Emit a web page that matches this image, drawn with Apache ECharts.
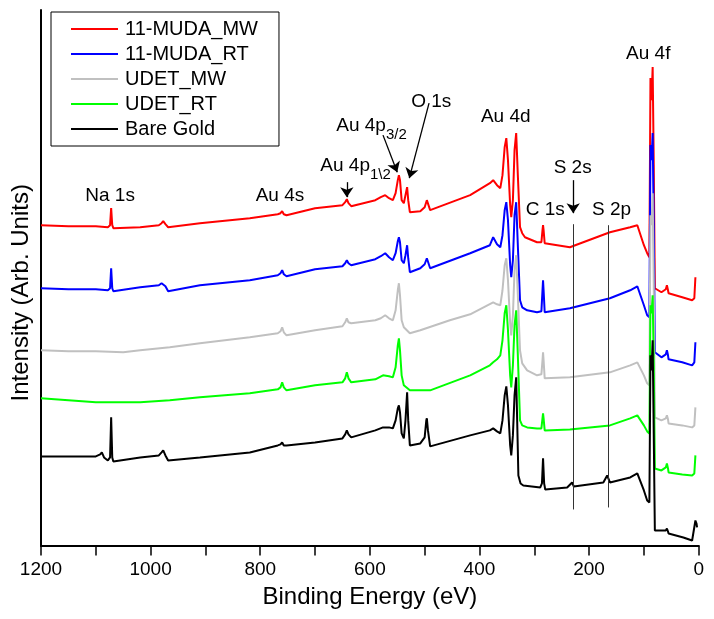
<!DOCTYPE html>
<html><head><meta charset="utf-8">
<script src="https://cdn.jsdelivr.net/npm/echarts@6/dist/echarts.min.js"></script>
<style>html,body{margin:0;padding:0;background:#fff}#c{width:714px;height:619px}</style>
</head><body><div id="c"></div>
<script>
// ---------- data (binding energy eV, intensity arb. units incl. vertical offset) ----------
const seriesNames = ['11-MUDA_MW', '11-MUDA_RT', 'UDET_MW', 'UDET_RT', 'Bare Gold'];

const muda_mw = [[1200,320],[1150,319],[1100,319],[1078,318],[1074,320],[1072,337],[1070,320],[1068,317],[1019,318],[985,320],[980,322],[977,324],[973,321],[968,318],[910,322],[819,327],[768,331],[763,332],[760,334],[757,331],[752,330],[700,337],[650,340],[645,343],[642,346],[639,342],[634,339],[590,345],[580,348],[572,350],[565,347],[558,345],[553,352],[549,365],[547,370],[545,365],[542,345],[538,342],[535,350],[532,358],[530,345],[527,333],[508,334],[500,338],[496,345],[493,340],[490,335],[417,350],[381,362],[375,365],[368,360],[362,357],[358,370],[354,398],[351,407],[348,385],[344,340],[342,328],[339,345],[336,395],[333,412],[330,370],[326,318],[322,312],[317,308],[295,303],[287,303],[285,315],[284,320],[283,315],[281,302],[235,298],[162,313],[125,318],[112,320],[100,300],[94,292],[90,288],[88,467],[86,445],[84,478],[82,380],[80,257],[68,253],[60,256],[58,260],[56,255],[55,252],[30,248],[12,245],[8,247],[6,268]];

const muda_rt = [[1200,257],[1150,256],[1100,256],[1078,255],[1074,257],[1072,277],[1070,257],[1068,254],[1019,258],[985,260],[980,262],[977,263],[973,259],[968,254],[910,260],[819,265],[768,270],[763,272],[760,275],[757,271],[752,269],[700,276],[650,279],[645,282],[642,285],[639,282],[634,280],[590,286],[580,289],[572,292],[565,288],[558,285],[553,292],[549,304],[547,308],[545,303],[542,285],[538,282],[535,290],[532,300],[530,287],[527,273],[508,277],[500,281],[496,287],[493,282],[490,277],[417,292],[381,300],[375,308],[368,301],[362,298],[358,310],[354,335],[351,343],[348,325],[344,280],[342,268],[339,285],[336,330],[333,343],[330,300],[326,245],[322,238],[313,235],[295,233],[287,234],[285,255],[284,265],[283,255],[281,233],[235,237],[162,247],[125,255],[112,259],[109,260],[100,240],[94,230],[90,228],[88,400],[86,385],[84,412],[82,320],[80,193],[68,188],[60,191],[58,195],[56,190],[55,186],[30,183],[12,180],[8,183],[6,203]];

const udet_mw = [[1200,195],[1150,194],[1100,194],[1050,193],[1019,195],[965,198],[910,202],[819,208],[768,212],[763,214],[760,218],[757,213],[752,210],[700,215],[650,219],[645,223],[642,227],[639,223],[634,222],[590,225],[580,227],[572,230],[565,227],[558,225],[553,235],[549,255],[547,262],[545,250],[542,225],[538,218],[527,212],[508,215],[454,225],[417,231],[375,243],[368,241],[362,240],[358,255],[354,280],[351,287],[348,265],[344,222],[342,210],[339,230],[336,275],[333,290],[330,250],[326,195],[322,182],[313,175],[295,170],[287,171],[285,185],[284,193],[283,185],[281,167],[235,168],[162,173],[125,180],[112,183],[109,183],[100,170],[94,162],[90,160],[88,330],[86,320],[84,352],[82,260],[80,128],[68,125],[60,127],[58,130],[56,126],[55,122],[30,120],[12,118],[8,120],[6,138]];

const udet_rt = [[1200,147],[1150,145],[1100,143],[1019,143],[965,145],[910,148],[819,152],[768,156],[763,158],[760,163],[757,158],[752,155],[700,160],[650,163],[645,167],[642,173],[639,167],[634,163],[590,166],[576,170],[565,169],[558,168],[553,178],[549,200],[547,207],[545,195],[542,170],[538,160],[527,155],[490,155],[417,170],[381,180],[375,183],[368,186],[362,190],[358,205],[354,232],[351,240],[348,215],[344,170],[342,158],[339,180],[336,220],[333,235],[330,190],[326,125],[322,120],[313,118],[295,117],[287,117],[285,127],[284,132],[283,127],[281,115],[235,116],[162,120],[125,127],[112,130],[109,130],[100,120],[94,114],[90,112],[88,240],[86,232],[84,250],[82,180],[80,77],[68,75],[60,78],[58,82],[56,77],[55,73],[30,71],[12,70],[8,72],[6,90]];

const bare_gold = [[1200,89],[1150,89],[1100,89],[1092,91],[1089,93],[1085,88],[1078,85],[1074,88],[1072,128],[1070,88],[1068,84],[1019,88],[985,90],[980,93],[977,95],[973,90],[968,85],[910,88],[819,93],[768,100],[763,101],[760,103],[757,100],[752,100],[700,103],[650,107],[645,111],[642,115],[639,111],[634,108],[590,115],[576,118],[565,118],[558,117],[553,125],[549,137],[547,140],[545,133],[542,112],[538,107],[535,125],[532,153],[530,125],[527,100],[508,102],[500,108],[497,125],[496,127],[494,115],[490,99],[417,110],[381,115],[375,117],[368,114],[362,112],[358,125],[354,150],[351,159],[348,140],[344,100],[342,90],[339,110],[336,150],[333,168],[331,120],[329,70],[325,62],[320,60],[289,58],[286,62],[284,87],[282,62],[280,56],[240,58],[231,63],[228,59],[174,63],[167,70],[162,63],[125,68],[112,72],[100,55],[94,45],[90,43],[88,190],[86,175],[84,205],[82,110],[80,15],[68,15],[60,15],[58,17],[56,14],[55,12],[28,8],[12,5],[6,25],[4,22],[3,18]];

const xTickLabels = [0, 200, 400, 600, 800, 1000, 1200];

// peak annotations (data coordinates)
const peakLabels  = ['Na 1s', 'Au 4s', 'Au 4p|1\\2', 'Au 4p|3/2', 'O 1s', 'Au 4d', 'C 1s', 'S 2s', 'S 2p', 'Au 4f'];
const peakLabelBE = [1074, 764, 626, 597, 488, 352, 280, 230, 159, 92];
const peakLabelY  = [349, 349, 378, 418, 443, 428, 335, 377, 335, 491];
const arrowFrom = [[642, 363], [576, 410], [492, 442], [229, 365]];
const arrowTo   = [[642, 348], [550, 373], [528, 367], [229, 332]];
const refLineBE = [229, 165];
const refLineTop = [321, 320];
const refLineBottom = [36, 38];

// ---------- chart ----------
const FONT = 'Liberation Sans, Arial, sans-serif';
const colors = ['#ff0000', '#0000ff', '#c0c0c0', '#00ff00', '#000000'];
const datasets = [muda_mw, muda_rt, udet_mw, udet_rt, bare_gold];

const markLineData = [];
arrowFrom.forEach((f, i) => {
  markLineData.push([{coord: f, symbol: 'none'}, {coord: arrowTo[i], symbol: 'arrow'}]);
});
refLineBE.forEach((be, i) => {
  markLineData.push([{coord: [be, refLineTop[i]], symbol: 'none', lineStyle: {color: '#333', width: 1}},
                     {coord: [be, refLineBottom[i]], symbol: 'none'}]);
});

const markPointData = peakLabels.map((t, i) => ({
  coord: [peakLabelBE[i], peakLabelY[i]],
  value: t
}));

const series = seriesNames.map((n, i) => {
  const s = {
    name: n, type: 'line', data: datasets[i], symbol: 'none', showSymbol: false,
    lineStyle: {color: colors[i], width: 2}, itemStyle: {color: colors[i]},
    emphasis: {disabled: true}, animation: false
  };
  if (i === seriesNames.length - 1) {
    s.markLine = {
      silent: true, animation: false, symbolSize: 10,
      label: {show: false},
      lineStyle: {color: '#000', width: 1.3, type: 'solid'},
      emphasis: {disabled: true},
      data: markLineData
    };
    s.markPoint = {
      silent: true, animation: false, symbol: 'circle', symbolSize: 1,
      itemStyle: {color: 'rgba(0,0,0,0)'},
      label: {
        show: true, position: 'inside', color: '#000', fontSize: 19, fontFamily: FONT,
        formatter: p => {
          const parts = p.value.split('|');
          if (parts.length === 1) return parts[0];
          return '{m|' + parts[0] + '}{s|' + parts[1] + '}';
        },
        rich: {
          m: {fontSize: 19, lineHeight: 22, verticalAlign: 'top', color: '#000', fontFamily: FONT},
          s: {fontSize: 15, lineHeight: 15, padding: [11, 0, 0, 0], verticalAlign: 'top', color: '#000', fontFamily: FONT}
        }
      },
      data: markPointData
    };
  }
  return s;
});

const chart = echarts.init(document.getElementById('c'), null, {renderer: 'canvas'});
chart.setOption({
  animation: false,
  backgroundColor: '#fff',
  grid: {left: 41, right: 15.3, top: 10, bottom: 73.5, containLabel: false},
  legend: {
    data: seriesNames, orient: 'vertical', left: 51, top: 12,
    padding: [7, 21, 7, 20], itemGap: 5, itemWidth: 47, itemHeight: 2, icon: 'rect',
    borderColor: '#000', borderWidth: 1, backgroundColor: '#fff',
    textStyle: {fontSize: 20, lineHeight: 20, color: '#000', fontFamily: FONT, padding: [0, 0, 0, 2]},
    selectedMode: false
  },
  xAxis: {
    type: 'value', min: 0, max: 1200, interval: 100, inverse: true,
    name: 'Binding Energy (eV)', nameLocation: 'middle', nameGap: 40,
    nameTextStyle: {fontSize: 24, color: '#000', fontFamily: FONT},
    axisLine: {show: true, onZero: false, lineStyle: {color: '#000', width: 2}},
    axisTick: {show: true, length: 10, inside: false, lineStyle: {color: '#000', width: 1.5}},
    axisLabel: {
      fontSize: 19, color: '#000', fontFamily: FONT, margin: 15,
      formatter: v => xTickLabels.includes(v) ? String(v) : ''
    },
    splitLine: {show: false}
  },
  yAxis: {
    type: 'value', min: 0, max: 535, position: 'left',
    name: 'Intensity (Arb. Units)', nameLocation: 'middle', nameGap: 8,
    nameTextStyle: {fontSize: 24, color: '#000', fontFamily: FONT, padding: [0, 30, 0, 0]},
    axisLine: {show: true, onZero: false, lineStyle: {color: '#000', width: 2}},
    axisTick: {show: false}, axisLabel: {show: false}, splitLine: {show: false}
  },
  series: series
});
</script>
</body></html>
